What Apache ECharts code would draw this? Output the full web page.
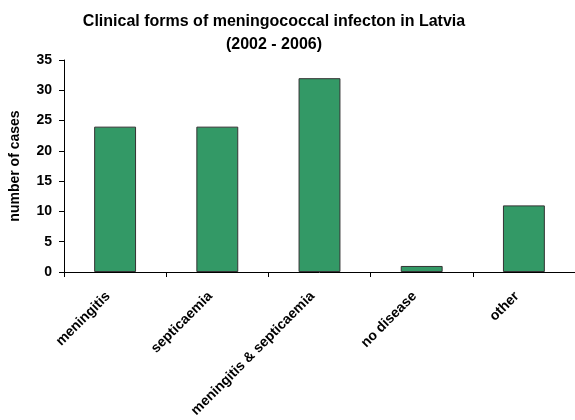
<!DOCTYPE html>
<html>
<head>
<meta charset="utf-8">
<script src="https://cdn.jsdelivr.net/npm/echarts@6/dist/echarts.min.js"></script>
<style>
html,body{margin:0;padding:0;background:#fff;}
#main{width:575px;height:420px;}
</style>
</head>
<body>
<div id="main"></div>
<script>
// data
var categories = ['meningitis', 'septicaemia', 'meningitis & septicaemia', 'no disease', 'other'];
var cases = [24, 24, 32, 1, 11];
var yTicks = [0, 5, 10, 15, 20, 25, 30, 35];

var font = 'Arial, "Liberation Sans", sans-serif';

var myChart = echarts.init(document.getElementById('main'));

var option = {
	animation: false,
	backgroundColor: '#fff',
	title: {
		text: 'Clinical forms of meningococcal infecton in Latvia\n(2002 - 2006)',
		left: 269,
		top: 5,
		textAlign: 'center',
		textStyle: {
			fontFamily: font,
			fontSize: 16,
			fontWeight: 'bold',
			color: '#000',
			lineHeight: 23
		}
	},
	grid: {
		left: 60,
		right: 0,
		top: 60,
		bottom: 143,
		containLabel: false
	},
	xAxis: {
		type: 'category',
		data: categories,
		boundaryGap: true,
		axisLine: {lineStyle: {color: '#000', width: 1}},
		axisTick: {show: true, length: 5, alignWithLabel: false, lineStyle: {color: '#000'}},
		axisLabel: {
			rotate: 45,
			interval: 0,
			margin: 15,
			padding: [0, 10, 0, 0],
			fontFamily: font,
			fontSize: 14,
			fontWeight: 'bold',
			color: '#000'
		}
	},
	yAxis: {
		type: 'value',
		min: yTicks[0],
		max: yTicks[yTicks.length - 1],
		interval: 5,
		name: 'number of cases',
		nameLocation: 'middle',
		nameGap: 42,
		nameTextStyle: {
			fontFamily: font,
			fontSize: 14,
			fontWeight: 'bold',
			color: '#000'
		},
		axisLine: {show: true, lineStyle: {color: '#000', width: 1}},
		axisTick: {show: true, length: 5, lineStyle: {color: '#000'}},
		splitLine: {show: false},
		axisLabel: {
			margin: 12,
			fontFamily: font,
			fontSize: 14,
			fontWeight: 'bold',
			color: '#000'
		}
	},
	series: [
		{
			name: 'cases',
			type: 'bar',
			data: cases,
			barWidth: '41%',
			itemStyle: {
				color: '#339966',
				borderColor: '#333',
				borderWidth: 1
			}
		}
	]
};

myChart.setOption(option);
</script>
</body>
</html>
